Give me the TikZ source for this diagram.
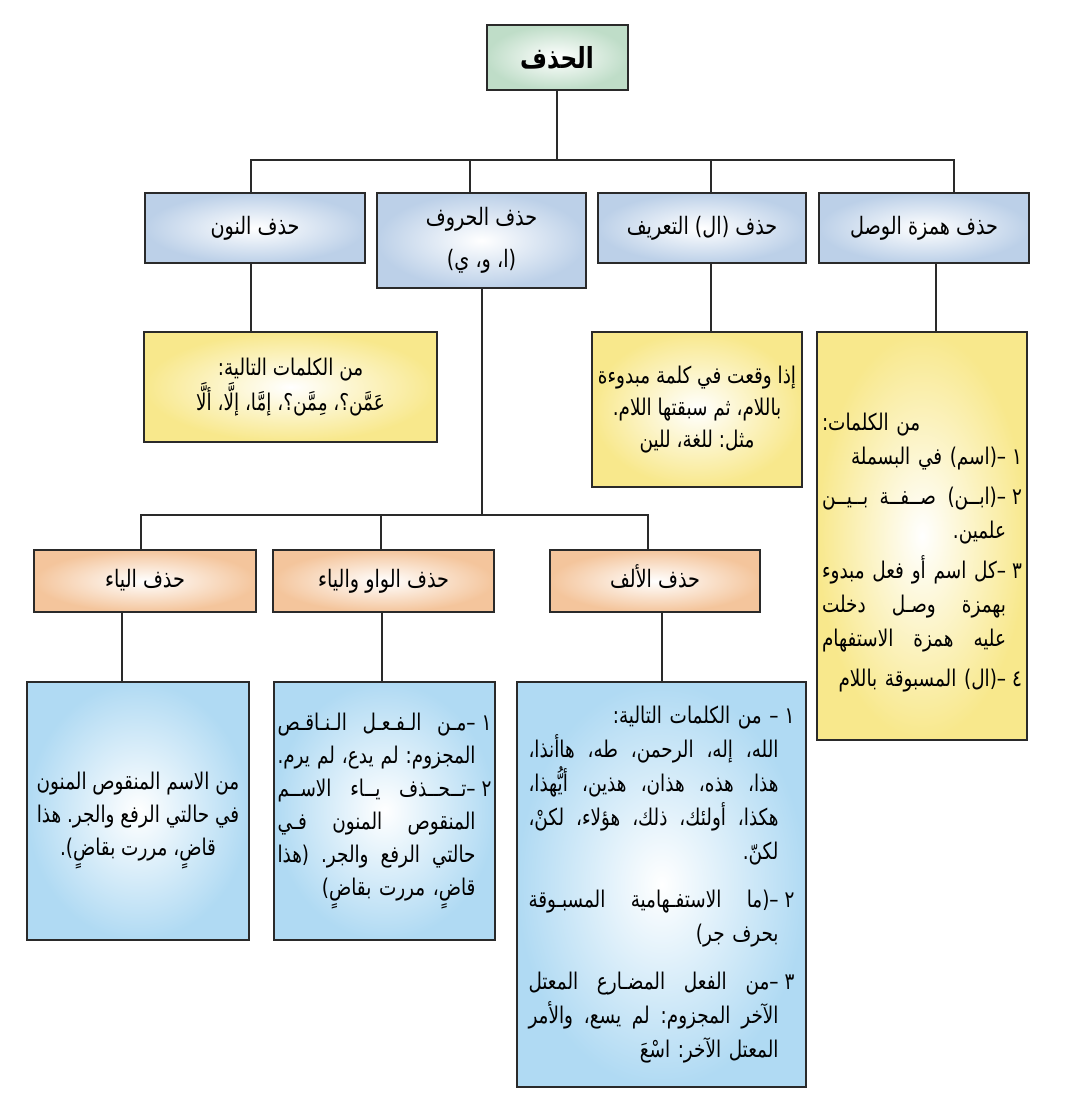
\documentclass[tikz,border=0pt]{standalone}
\usepackage{fontspec}
\newfontfamily\arabicfont[Script=Arabic,FakeStretch=0.8]{DejaVu Sans}
\TeXXeTstate=1
\frenchspacing
\definecolor{rootc}{HTML}{BFDDC8}
\definecolor{kindc}{HTML}{BCD0E8}
\definecolor{notec}{HTML}{F8E88C}
\definecolor{subc}{HTML}{F4C59C}
\definecolor{leafc}{HTML}{B0DAF3}
\definecolor{edgec}{HTML}{2A2A2A}
% one line of right-to-left text
\newcommand{\rtl}[1]{\beginR #1\endR}
% item number with a fixed gap
\newcommand{\nm}[1]{#1\kern3pt}
% taller first line, pushes a block down
\newcommand{\tall}[1]{\rule{0pt}{#1}}
% full lines inside a box of fixed width
\newcommand{\fillsp}{\spaceskip=.3em plus 1fil\xspaceskip=\spaceskip}
\newcommand{\jline}[1]{\noindent\hbox to\hsize{\fillsp\beginR #1\endR}}
\newcommand{\jind}[1]{\noindent\hbox to\hsize{\fillsp\beginR\kern8pt #1\endR}}
\newcommand{\rline}[1]{\noindent\hbox to\hsize{\hfil\beginR #1\endR}}
\newcommand{\rind}[1]{\noindent\hbox to\hsize{\hfil\beginR\kern8pt #1\endR}}
\newcommand{\lline}[1]{\noindent\hbox to\hsize{\beginR #1\endR\hfil}}

\begin{document}
\begin{tikzpicture}[
    x=0.5pt, y=-0.5pt,
    boxbase/.style={draw=edgec,line width=1pt,inner sep=0pt,outer sep=0pt,shade,inner color=white},
    root/.style={boxbase,outer color=rootc,font=\arabicfont\bfseries\fontsize{14.5}{16}\selectfont},
    kind/.style={boxbase,outer color=kindc,align=center,font=\arabicfont\fontsize{12}{21}\selectfont},
    note/.style={boxbase,outer color=notec,font=\arabicfont\fontsize{11.5}{16}\selectfont},
    sub/.style={boxbase,outer color=subc,text height=9pt,text depth=3pt,font=\arabicfont\fontsize{12}{17}\selectfont},
    leaf/.style={boxbase,outer color=leafc,font=\arabicfont\fontsize{11.5}{16.5}\selectfont},
    link/.style={draw=edgec,line width=1pt}
]
\fill[white] (0,0) rectangle (1080,1111);
\useasboundingbox (0,0) rectangle (1080,1111);

% root
\node[root,minimum width=70.5pt,minimum height=32.5pt] (hadhf) at (557,57.5) {\rtl{الحذف}};

% first level
\node[kind,minimum width=110pt,minimum height=35pt] (nun) at (255,228) {\rtl{حذف النون}};
\node[kind,minimum width=104.5pt,minimum height=47.5pt] (huruf) at (481.5,240.5) {\rtl{حذف الحروف}\\\rtl{(ا، و، ي)}};
\node[kind,minimum width=104pt,minimum height=35pt] (tarif) at (702,228) {\rtl{حذف (ال) التعريف}};
\node[kind,minimum width=105pt,minimum height=35pt] (hamza) at (924,228) {\rtl{حذف همزة الوصل}};

% notes under the first level
\node[note,minimum width=146.5pt,minimum height=55pt,align=center] (nunNote) at (290.5,387) {%
  \rtl{من الكلمات التالية:}\\
  \rtl{عَمَّن؟، مِمَّن؟، إمَّا، إلَّا، ألَّا}};
\node[note,minimum width=105pt,minimum height=77.5pt,align=center] (tarifNote) at (697,409.5) {%
  \rtl{إذا وقعت في كلمة مبدوءة}\\
  \rtl{باللام، ثم سبقتها اللام.}\\
  \rtl{مثل: للغة، للين}};
\node[note,minimum width=105pt,minimum height=203.5pt,text width=100pt,align=right,
      font=\arabicfont\fontsize{11.5}{17}\selectfont] (hamzaNote) at (922,536) {%
  \lline{\tall{25pt}من الكلمات:}\\
  \rline{\nm{١}–(اسم) في البسملة}\\[3pt]
  \jline{\nm{٢}–(ابــن) صــفــة بــيــن}\\
  \rind{علمين.}\\[3pt]
  \jline{\nm{٣}–كل اسم أو فعل مبدوء}\\
  \jind{بهمزة وصـل دخلت}\\
  \jind{عليه همزة الاستفهام}\\[3pt]
  \rline{\nm{٤}–(ال) المسبوقة باللام}};

% second level
\node[sub,minimum width=111pt,minimum height=31pt] (ya) at (145,581) {\rtl{حذف الياء}};
\node[sub,minimum width=110.5pt,minimum height=31pt] (waw) at (383.5,581) {\rtl{حذف الواو والياء}};
\node[sub,minimum width=105pt,minimum height=31pt] (alif) at (655,581) {\rtl{حذف الألف}};

% lists
\node[leaf,minimum width=111pt,minimum height=129pt,align=center] (yaList) at (138,811) {%
  \rtl{\tall{18pt}من الاسم المنقوص المنون}\\
  \rtl{في حالتي الرفع والجر. هذا}\\
  \rtl{قاضٍ، مررت بقاضٍ).}};
\node[leaf,minimum width=110.5pt,minimum height=129pt,text width=107pt,align=right] (wawList) at (384.5,811) {%
  \jline{\nm{١}–مـن الـفـعـل الـنـاقـص}\\
  \jind{المجزوم: لم يدع، لم يرم.}\\
  \jline{\nm{٢}–تــحــذف يــاء الاســم}\\
  \jind{المنقوص المنون فـي}\\
  \jind{حالتي الرفع والجر. (هذا}\\
  \rind{قاضٍ، مررت بقاضٍ)}};
\node[leaf,minimum width=144.5pt,minimum height=202.5pt,text width=133pt,align=right,
      font=\arabicfont\fontsize{11.5}{17}\selectfont] (alifList) at (661.5,884.5) {%
  \rline{\nm{١}– من الكلمات التالية:}\\
  \jind{الله، إله، الرحمن، طه، هاأنذا،}\\
  \jind{هذا، هذه، هذان، هذين، أيُّهذا،}\\
  \jind{هكذا، أولئك، ذلك، هؤلاء، لكنْ،}\\
  \rind{لكنّ.}\\[7pt]
  \jline{\nm{٢}–(ما الاستفـهامية المسبـوقة}\\
  \rind{بحرف جر)}\\[7pt]
  \jline{\nm{٣}–من الفعل المضـارع المعتل}\\
  \jind{الآخر المجزوم: لم يسع، والأمر}\\
  \rind{المعتل الآخر: اسْعَ}};

% connectors
\coordinate (bus1) at (557,160);
\coordinate (bus2) at (481.5,515);
\draw[link] (hadhf) -- (bus1);
\draw[link] ([xshift=-2pt]nun.north) |- (bus1) -| ([xshift=15pt]hamza.north);
\draw[link] ([xshift=-5.75pt]huruf.north) -- ([xshift=-5.75pt]huruf.north |- bus1);
\draw[link] ([xshift=4.5pt]tarif.north) -- ([xshift=4.5pt]tarif.north |- bus1);
\draw[link] ([xshift=-2pt]nun.south) -- ([xshift=-2pt]nun.south |- nunNote.north);
\draw[link] (huruf) -- (bus2);
\draw[link] ([xshift=4.5pt]tarif.south) -- ([xshift=4.5pt]tarif.south |- tarifNote.north);
\draw[link] ([xshift=6pt]hamza.south) -- ([xshift=6pt]hamza.south |- hamzaNote.north);
\draw[link] ([xshift=-2pt]ya.north) |- (bus2) -| ([xshift=-3.5pt]alif.north);
\draw[link] ([xshift=-1.25pt]waw.north) -- ([xshift=-1.25pt]waw.north |- bus2);
\draw[link] ([xshift=-11.5pt]ya.south) -- ([xshift=-11.5pt]ya.south |- yaList.north);
\draw[link] ([xshift=-0.75pt]waw.south) -- ([xshift=-0.75pt]waw.south |- wawList.north);
\draw[link] ([xshift=3.5pt]alif.south) -- ([xshift=3.5pt]alif.south |- alifList.north);
\end{tikzpicture}
\end{document}
